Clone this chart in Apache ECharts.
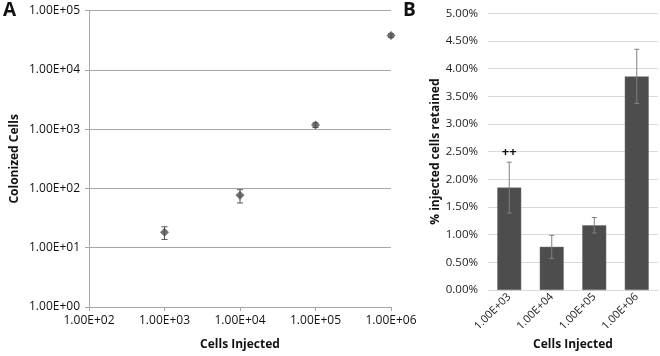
<!DOCTYPE html>
<html>
<head>
<meta charset="utf-8">
<script src="https://cdn.jsdelivr.net/npm/echarts@6/dist/echarts.min.js"></script>
<style>
  html, body { margin: 0; padding: 0; background: #fff; }
  #chart { width: 660px; height: 356px; }
</style>
</head>
<body>
<div id="chart"></div>
<script>
  // panel A: colonized cells vs cells injected (log-log)
  const cellsInjected = [1e3, 1e4, 1e5, 1e6]
  const colonized = [18.3, 76.6, 1175, 38000]
  const colonizedLow = [13.8, 57, 1070, 35500]
  const colonizedHigh = [22.6, 95.5, 1280, 40500]

  // panel B: % injected cells retained
  const categories = ['1.00E+03', '1.00E+04', '1.00E+05', '1.00E+06']
  const retained = [1.85, 0.78, 1.17, 3.86]
  const retainedErr = [0.46, 0.21, 0.14, 0.49]
  const marks = ['++', '', '', '']

  const font = 'Open Sans'

  function sci(v) {
    const e = Math.round(Math.log10(v))
    const m = v / Math.pow(10, e)
    return m.toFixed(2) + 'E+' + (e < 10 ? '0' : '') + e
  }

  function errorBar(color, capHalf) {
    return function (params, api) {
      const x = api.value(0)
      const top = api.coord([x, api.value(2)])
      const bot = api.coord([x, api.value(1)])
      const style = { stroke: color, lineWidth: 1 }
      const children = [
        { type: 'line', shape: { x1: top[0], y1: top[1], x2: bot[0], y2: bot[1] }, style },
        { type: 'line', shape: { x1: top[0] - capHalf, y1: top[1], x2: top[0] + capHalf, y2: top[1] }, style },
        { type: 'line', shape: { x1: bot[0] - capHalf, y1: bot[1], x2: bot[0] + capHalf, y2: bot[1] }, style }
      ]
      const txt = api.value(3)
      if (txt) {
        children.push({
          type: 'text',
          style: {
            text: txt, x: top[0], y: top[1] - 3, align: 'center', verticalAlign: 'bottom',
            font: 'bold 13px "' + font + '"', fill: '#111'
          }
        })
      }
      return { type: 'group', children }
    }
  }

  const chart = echarts.init(document.getElementById('chart'), null, { renderer: 'canvas' })

  chart.setOption({
    animation: false,
    textStyle: { fontFamily: font },
    graphic: [
      { type: 'text', left: 3, top: 1, style: { text: 'A', font: 'bold 19px "' + font + '"', fill: '#111' } },
      { type: 'text', left: 403, top: 1, style: { text: 'B', font: 'bold 19px "' + font + '"', fill: '#111' } }
    ],
    grid: [
      { left: 89, right: 269, top: 10.7, bottom: 48 },
      { left: 488, right: 2, top: 13.3, bottom: 66 }
    ],
    xAxis: [
      {
        gridIndex: 0,
        type: 'log',
        logBase: 10,
        min: 100,
        max: 1e6,
        name: 'Cells Injected',
        nameLocation: 'middle',
        nameGap: 32,
        nameTextStyle: { fontWeight: 'bold', fontSize: 12, color: '#111', verticalAlign: 'top' },
        axisLine: { lineStyle: { color: '#a6a6a6' } },
        axisTick: { show: true, length: 4, lineStyle: { color: '#a6a6a6' } },
        minorTick: { show: false },
        splitLine: { show: false },
        axisLabel: { formatter: sci, fontSize: 12, color: '#111', margin: 8 }
      },
      {
        gridIndex: 1,
        type: 'category',
        data: categories,
        name: 'Cells Injected',
        nameLocation: 'middle',
        nameGap: 45,
        nameTextStyle: { fontWeight: 'bold', fontSize: 12, color: '#111', verticalAlign: 'top' },
        axisLine: { lineStyle: { color: '#d9d9d9' } },
        axisTick: { show: false },
        axisLabel: { rotate: 45, fontSize: 11, color: '#222', margin: 5, interval: 0 }
      }
    ],
    yAxis: [
      {
        gridIndex: 0,
        type: 'log',
        logBase: 10,
        min: 1,
        max: 1e5,
        name: 'Colonized Cells',
        nameLocation: 'middle',
        nameGap: 68,
        nameTextStyle: { fontWeight: 'bold', fontSize: 12, color: '#111' },
        axisLine: { show: true, lineStyle: { color: '#a6a6a6' } },
        axisTick: { show: true, length: 4, lineStyle: { color: '#a6a6a6' } },
        splitLine: { lineStyle: { color: '#a6a6a6' } },
        axisLabel: { formatter: sci, fontSize: 12, color: '#111', margin: 9 }
      },
      {
        gridIndex: 1,
        type: 'value',
        min: 0,
        max: 5,
        interval: 0.5,
        name: '% injected cells retained',
        nameLocation: 'middle',
        nameGap: 45,
        nameTextStyle: { fontWeight: 'bold', fontSize: 12, color: '#111' },
        axisLine: { show: false },
        axisTick: { show: false },
        splitLine: { lineStyle: { color: '#d9d9d9' } },
        axisLabel: { formatter: v => v.toFixed(2) + '%', fontSize: 11.5, color: '#222', margin: 10 }
      }
    ],
    series: [
      {
        type: 'custom',
        xAxisIndex: 0,
        yAxisIndex: 0,
        renderItem: errorBar('#555', 3),
        data: cellsInjected.map((x, i) => [x, colonizedLow[i], colonizedHigh[i], '']),
        z: 2
      },
      {
        type: 'scatter',
        xAxisIndex: 0,
        yAxisIndex: 0,
        symbol: 'diamond',
        symbolSize: 9,
        itemStyle: { color: '#4f4f4f' },
        data: cellsInjected.map((x, i) => [x, colonized[i]]),
        z: 3
      },
      {
        type: 'bar',
        xAxisIndex: 1,
        yAxisIndex: 1,
        barWidth: 24,
        itemStyle: { color: '#4d4d4d', borderColor: '#6e6e6e', borderWidth: 0.5 },
        data: retained,
        z: 2
      },
      {
        type: 'custom',
        xAxisIndex: 1,
        yAxisIndex: 1,
        renderItem: errorBar('#808080', 2.5),
        data: retained.map((v, i) => [i, v - retainedErr[i], v + retainedErr[i], marks[i]]),
        z: 3
      }
    ]
  })
</script>
</body>
</html>
